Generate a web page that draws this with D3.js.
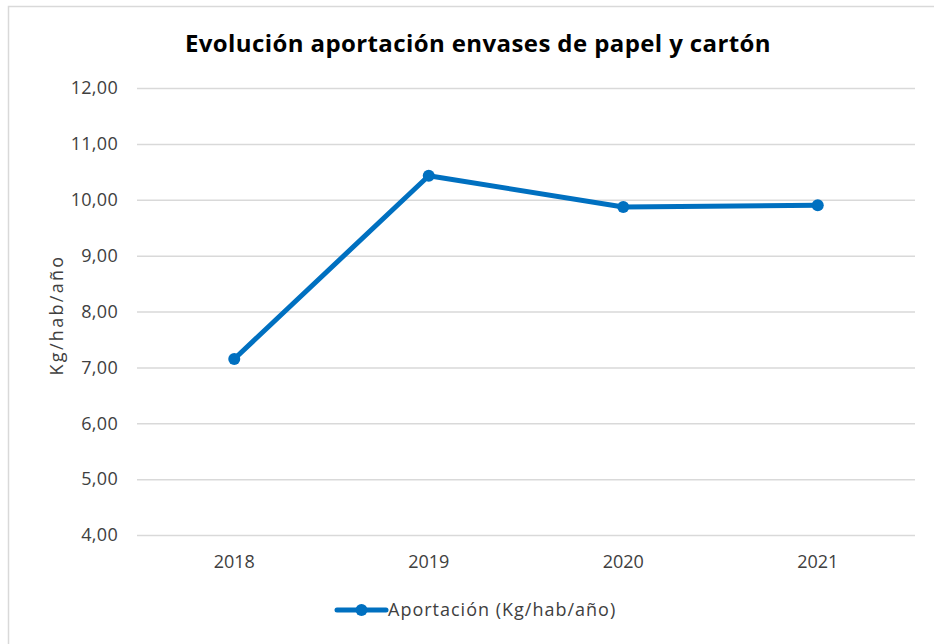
<!DOCTYPE html>
<html>
<head>
<meta charset="utf-8">
<script src="https://cdn.jsdelivr.net/npm/d3@7"></script>
<style>
  body { margin: 0; background: #fff; }
  text { font-family: "Open Sans", sans-serif; }
</style>
</head>
<body>
<script>
// data
const years = ["2018", "2019", "2020", "2021"];
const aportacion = [7.15, 10.43, 9.87, 9.90];
const yTicks = [4, 5, 6, 7, 8, 9, 10, 11, 12];
const title = "Evolución aportación envases de papel y cartón";
const seriesName = "Aportación (Kg/hab/año)";
const yTitle = "Kg/hab/año";

const W = 934, H = 644;
const margin = { top: 88, right: 19, bottom: 109, left: 137 };
const width = W - margin.left - margin.right,
  height = H - margin.top - margin.bottom;

const blue = "#0070c0";
const textColor = "#404040";

const svg = d3.select("body").append("svg")
  .attr("width", W)
  .attr("height", H);

// outer chart border (only top/left visible)
svg.append("rect")
  .attr("x", 8.5).attr("y", 6.5)
  .attr("width", 1000).attr("height", 1000)
  .attr("fill", "none")
  .attr("stroke", "#d9d9d9")
  .attr("stroke-width", 1.5);

// title
svg.append("text")
  .attr("x", 478).attr("y", 52)
  .attr("text-anchor", "middle")
  .attr("font-size", 24)
  .attr("font-weight", "bold")
  .attr("letter-spacing", 0.4)
  .attr("fill", "#000")
  .text(title);

const g = svg.append("g")
  .attr("transform", "translate(" + margin.left + "," + margin.top + ")");

const x = d3.scaleBand().domain(years).range([0, width]);
const y = d3.scaleLinear().domain([4, 12]).range([height, 0]);

// gridlines + y axis
const yAxis = g.append("g")
  .call(d3.axisLeft(y)
    .tickValues(yTicks)
    .tickSize(-width)
    .tickPadding(19)
    .tickFormat(d => d3.format(".2f")(d).replace(".", ",")));
yAxis.select(".domain").remove();
yAxis.selectAll(".tick line").attr("stroke", "#d9d9d9").attr("stroke-width", 1.5);
yAxis.selectAll(".tick text")
  .attr("font-size", 18)
  .attr("letter-spacing", 0.3)
  .attr("fill", textColor)
  .style("font-family", "'Open Sans', sans-serif");

// x axis labels
const xAxis = g.append("g")
  .attr("transform", "translate(0," + height + ")")
  .call(d3.axisBottom(x).tickSize(0).tickPadding(20));
xAxis.select(".domain").remove();
xAxis.selectAll(".tick text")
  .attr("font-size", 18)
  .attr("fill", textColor)
  .style("font-family", "'Open Sans', sans-serif");

// y axis title
svg.append("text")
  .attr("transform", "translate(63,315) rotate(-90)")
  .attr("text-anchor", "middle")
  .attr("font-size", 18)
  .attr("letter-spacing", 2.3)
  .attr("fill", textColor)
  .text(yTitle);

// line
const line = d3.line()
  .x((d, i) => x(years[i]) + x.bandwidth() / 2)
  .y(d => y(d));

g.append("path")
  .datum(aportacion)
  .attr("fill", "none")
  .attr("stroke", blue)
  .attr("stroke-width", 5)
  .attr("stroke-linejoin", "round")
  .attr("d", line);

g.selectAll(".dot")
  .data(aportacion)
  .enter().append("circle")
  .attr("class", "dot")
  .attr("cx", (d, i) => x(years[i]) + x.bandwidth() / 2)
  .attr("cy", d => y(d))
  .attr("r", 6)
  .attr("fill", blue);

// legend
const legend = svg.append("g").attr("transform", "translate(337,610)");
legend.append("line")
  .attr("x1", 0).attr("x2", 49)
  .attr("stroke", blue).attr("stroke-width", 5)
  .attr("stroke-linecap", "round");
legend.append("circle")
  .attr("cx", 24.5).attr("r", 6)
  .attr("fill", blue);
legend.append("text")
  .attr("x", 51).attr("dy", "0.35em")
  .attr("font-size", 18)
  .attr("letter-spacing", 1.0)
  .attr("fill", textColor)
  .text(seriesName);
</script>
</body>
</html>
